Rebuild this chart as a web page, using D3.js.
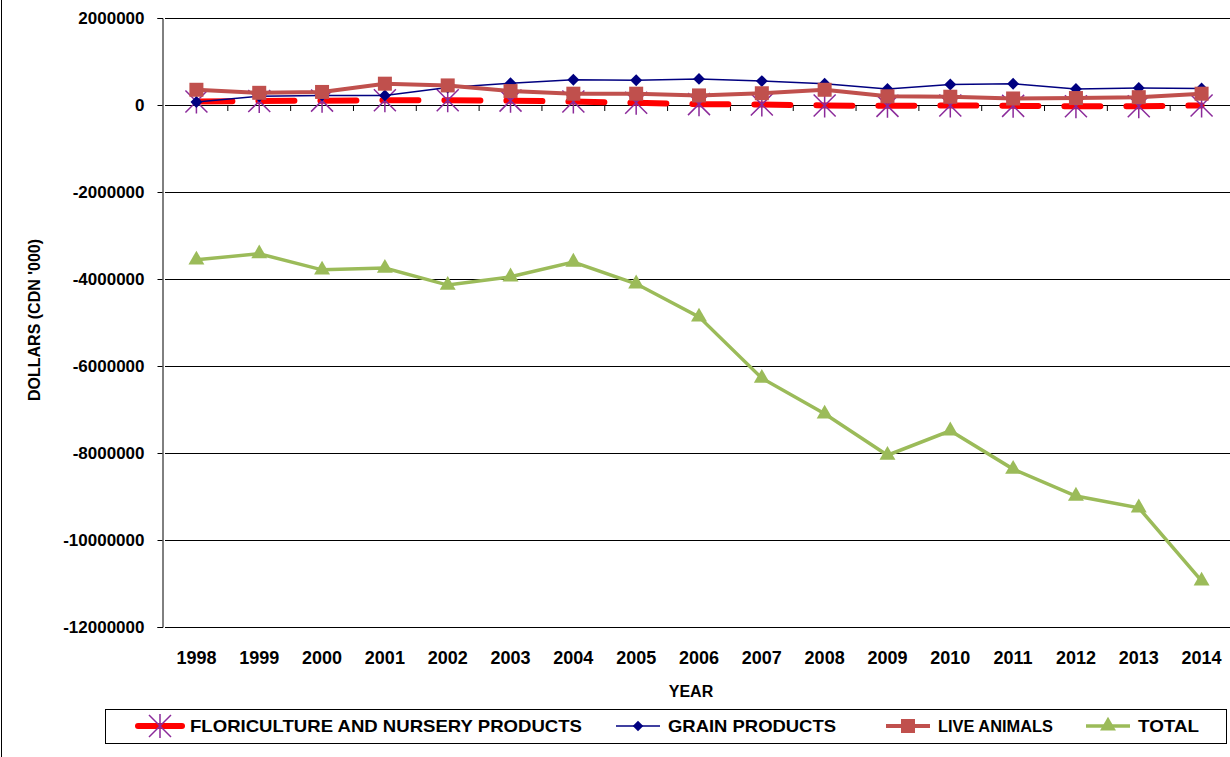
<!DOCTYPE html>
<html><head><meta charset="utf-8">
<script src="https://cdn.jsdelivr.net/npm/d3@7"></script>
<style>body{margin:0;background:#fff;font-family:Arial,"Liberation Sans",sans-serif;}</style>
</head><body>
<script>
var years = ["1998","1999","2000","2001","2002","2003","2004","2005","2006","2007","2008","2009","2010","2011","2012","2013","2014"];
var flori = [80000,90000,100000,110000,110000,100000,80000,50000,20000,10000,-10000,-20000,-10000,-20000,-30000,-30000,-10000];
var grain = [70000,200000,220000,220000,400000,500000,580000,570000,600000,550000,490000,370000,470000,490000,370000,390000,380000];
var animals = [350000,280000,300000,490000,450000,320000,260000,260000,220000,270000,350000,200000,190000,150000,160000,180000,260000];
var total = [-3560000,-3420000,-3790000,-3750000,-4140000,-3950000,-3610000,-4110000,-4870000,-6280000,-7100000,-8050000,-7490000,-8370000,-8990000,-9260000,-10940000];
var yTicks = [2000000,0,-2000000,-4000000,-6000000,-8000000,-10000000,-12000000];

var W = 1230, H = 757;
var svg = d3.select("body").append("svg").attr("width", W).attr("height", H);
var mLeft = 165, mRight = 1233, mTop = 18, mBottom = 627;
var x = d3.scaleBand().domain(years).range([mLeft, mRight]);
var y = d3.scaleLinear().domain([-12000000, 2000000]).range([mBottom, mTop]);
var cx = function(i){ return x(years[i]) + x.bandwidth()/2; };

svg.append("line").attr("x1",1.5).attr("x2",1.5).attr("y1",0).attr("y2",H).attr("stroke","#000");

// grid
svg.selectAll(".grid").data(yTicks).enter().append("line")
	.attr("x1", mLeft).attr("x2", mRight).attr("y1", function(d){return Math.round(y(d))+0.5;}).attr("y2", function(d){return Math.round(y(d))+0.5;})
	.attr("stroke", "#000").attr("stroke-width", 1);

var yAxis = svg.append("g").attr("transform","translate("+(mLeft-2.5)+",0)")
	.call(d3.axisLeft(y).tickValues(yTicks).tickFormat(function(d){return String(d);}).tickSize(5));
yAxis.selectAll("text").attr("font-size",17).attr("font-weight","bold").attr("fill","#000").attr("dx",-10);
svg.append("g").selectAll("line").data(years.slice(1)).enter().append("line")
	.attr("x1",function(d){return x(d);}).attr("x2",function(d){return x(d);})
	.attr("y1",y(0)).attr("y2",y(0)+6).attr("stroke","#000");
svg.selectAll(".xl").data(years).enter().append("text")
	.attr("x",function(d,i){return cx(i);}).attr("y",664).attr("text-anchor","middle")
	.attr("font-size",18).attr("font-weight","bold").text(function(d){return d;});
svg.append("text").attr("x",691).attr("y",697).attr("text-anchor","middle").attr("font-size",16).attr("font-weight","bold").text("YEAR");
svg.append("text").attr("transform","translate(40,320) rotate(-90)").attr("text-anchor","middle")
	.attr("font-size",16).attr("font-weight","bold").text("DOLLARS (CDN '000)");

var line = d3.line().x(function(d,i){return cx(i);}).y(function(d){return y(d);});
function star(g, px, py){
	g.append("path").attr("d","M"+(px-11)+","+(py-11)+"L"+(px+11)+","+(py+11)+"M"+(px-11)+","+(py+11)+"L"+(px+11)+","+(py-11)+"M"+px+","+(py-12)+"L"+px+","+(py+12))
		.attr("stroke","#8b2a9a").attr("stroke-width",1.5);
}
function diamond(g, px, py, s){
	g.append("path").attr("d",d3.symbol().type(d3.symbolDiamond2).size(s)()).attr("transform","translate("+px+","+py+")").attr("fill","#000080");
}
function square(g, px, py){
	g.append("rect").attr("x",px-7).attr("y",py-7).attr("width",14).attr("height",14).attr("fill","#c0504d");
}
function tri(g, px, py){
	g.append("path").attr("d",d3.symbol().type(d3.symbolTriangle).size(110)()).attr("transform","translate("+px+","+py+")").attr("fill","#9bbb59");
}

var gF = svg.append("g");
gF.append("path").attr("d", line(flori)).attr("fill","none").attr("stroke","#ff0000").attr("stroke-width",6).attr("stroke-linecap","round").attr("stroke-dasharray","36,26");
flori.forEach(function(d,i){ star(gF, cx(i), y(d)); });
var gG = svg.append("g");
gG.append("path").attr("d", line(grain)).attr("fill","none").attr("stroke","#000080").attr("stroke-width",1.5);
grain.forEach(function(d,i){ diamond(gG, cx(i), y(d), 90); });
var gA = svg.append("g");
gA.append("path").attr("d", line(animals)).attr("fill","none").attr("stroke","#c0504d").attr("stroke-width",4);
animals.forEach(function(d,i){ square(gA, cx(i), y(d)); });
var gT = svg.append("g");
gT.append("path").attr("d", line(total)).attr("fill","none").attr("stroke","#9bbb59").attr("stroke-width",3.5);
total.forEach(function(d,i){ tri(gT, cx(i), y(d)); });

// legend
var leg = svg.append("g");
leg.append("rect").attr("x",105.5).attr("y",709.5).attr("width",1121).attr("height",34).attr("fill","#fff").attr("stroke","#000");
var ly = 726;
function legText(xp, len, t){
	leg.append("text").attr("x",xp).attr("y",ly+6).attr("font-size",17).attr("font-weight","bold")
		.attr("textLength",len).attr("lengthAdjust","spacingAndGlyphs").text(t);
}
leg.append("line").attr("x1",138).attr("x2",182).attr("y1",ly).attr("y2",ly).attr("stroke","#ff0000").attr("stroke-width",6).attr("stroke-linecap","round");
star(leg,160,ly);
legText(190, 392, "FLORICULTURE AND NURSERY PRODUCTS");
leg.append("line").attr("x1",616).attr("x2",660).attr("y1",ly).attr("y2",ly).attr("stroke","#000080").attr("stroke-width",1.5);
diamond(leg,638,ly,70);
legText(668, 168, "GRAIN PRODUCTS");
leg.append("line").attr("x1",886).attr("x2",930).attr("y1",ly).attr("y2",ly).attr("stroke","#c0504d").attr("stroke-width",4);
square(leg,908,ly);
legText(938, 115, "LIVE ANIMALS");
leg.append("line").attr("x1",1086).attr("x2",1130).attr("y1",ly).attr("y2",ly).attr("stroke","#9bbb59").attr("stroke-width",3.5);
tri(leg,1108,ly);
legText(1138, 61, "TOTAL");
</script>
</body></html>
